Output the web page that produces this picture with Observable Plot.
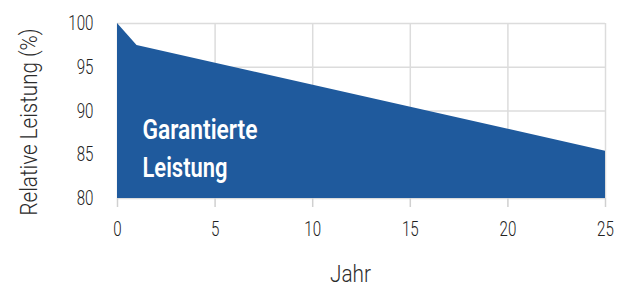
<!DOCTYPE html>
<html>
<head>
<meta charset="utf-8">
<script src="https://cdn.jsdelivr.net/npm/d3@7"></script>
<script src="https://cdn.jsdelivr.net/npm/@observablehq/plot@0.6"></script>
<style>
  html, body { margin: 0; padding: 0; background: #fff; }
</style>
</head>
<body>
<div id="chart"></div>
<script>
const years = [0, 1, 25];
const performance = [100, 97.5, 85.4];
const xTicks = [0, 5, 10, 15, 20, 25];
const yTicks = [80, 85, 90, 95, 100];
const areaLabel = "Garantierte\nLeistung";
const xTitle = "Jahr";
const yTitle = "Relative Leistung (%)";

const data = years.map((x, i) => ({x, y: performance[i]}));

const fontFam = 'Roboto, "Noto Sans", sans-serif';

const chart = Plot.plot({
  width: 626,
  height: 286,
  marginLeft: 117,
  marginRight: 21,
  marginTop: 23,
  marginBottom: 88,
  style: {fontFamily: fontFam, color: "#333", background: "#fff"},
  x: {domain: [0, 25]},
  y: {domain: [80, 100]},
  marks: [
    Plot.gridY(yTicks, {stroke: "#dcdcdc", strokeOpacity: 1, strokeWidth: 1.5}),
    Plot.gridX(xTicks, {stroke: "#dcdcdc", strokeOpacity: 1, strokeWidth: 1.5}),
    Plot.areaY(data, {x: "x", y1: 80, y2: "y", fill: "#1f5a9d", curve: "linear"}),
    Plot.axisX(xTicks, {tickSize: 9, tickPadding: 14, stroke: "#d0d0d0", strokeWidth: 1.5, fontSize: 21, fontWeight: 300, fill: "#222", label: null, className: "ticklab"}),
    Plot.axisY(yTicks, {tickSize: 0, tickPadding: 24, fontSize: 21, fontWeight: 300, fill: "#222", label: null, className: "ticklab"}),
    Plot.text([areaLabel], {frameAnchor: "top-left", dx: 25, dy: 88, textAnchor: "start", lineAnchor: "top", lineHeight: 1.36, fontSize: 28, fontWeight: 600, fill: "white", className: "arealab"}),
    Plot.text([yTitle], {frameAnchor: "left", rotate: -90, dx: -88, dy: 11, textAnchor: "middle", lineAnchor: "middle", fontSize: 24, fontWeight: 300, fill: "#2b2b2b", className: "ytitle"}),
    Plot.text([xTitle], {frameAnchor: "bottom", dx: -11, dy: 76, textAnchor: "middle", lineAnchor: "middle", fontSize: 24, fontWeight: 300, fill: "#2b2b2b", className: "xtitle"})
  ]
});
document.getElementById("chart").appendChild(chart);

// condense glyphs horizontally to mimic the condensed typeface
function squeeze(el, target) {
  const len = el.getComputedTextLength();
  if (!len) return;
  el.setAttribute("textLength", target(len, el));
  el.setAttribute("lengthAdjust", "spacingAndGlyphs");
}
const svg = d3.select(chart);
svg.selectAll(".ticklab text").each(function() { squeeze(this, l => l * 0.72); });
const labTargets = {"Garantierte": 115, "Leistung": 85};
svg.selectAll(".arealab text tspan").each(function() {
  const t = labTargets[this.textContent];
  squeeze(this, l => t || l * 0.8);
});
svg.selectAll(".ytitle text").each(function() { squeeze(this, () => 187); });
svg.selectAll(".xtitle text").each(function() { squeeze(this, () => 41); });
</script>
</body>
</html>
